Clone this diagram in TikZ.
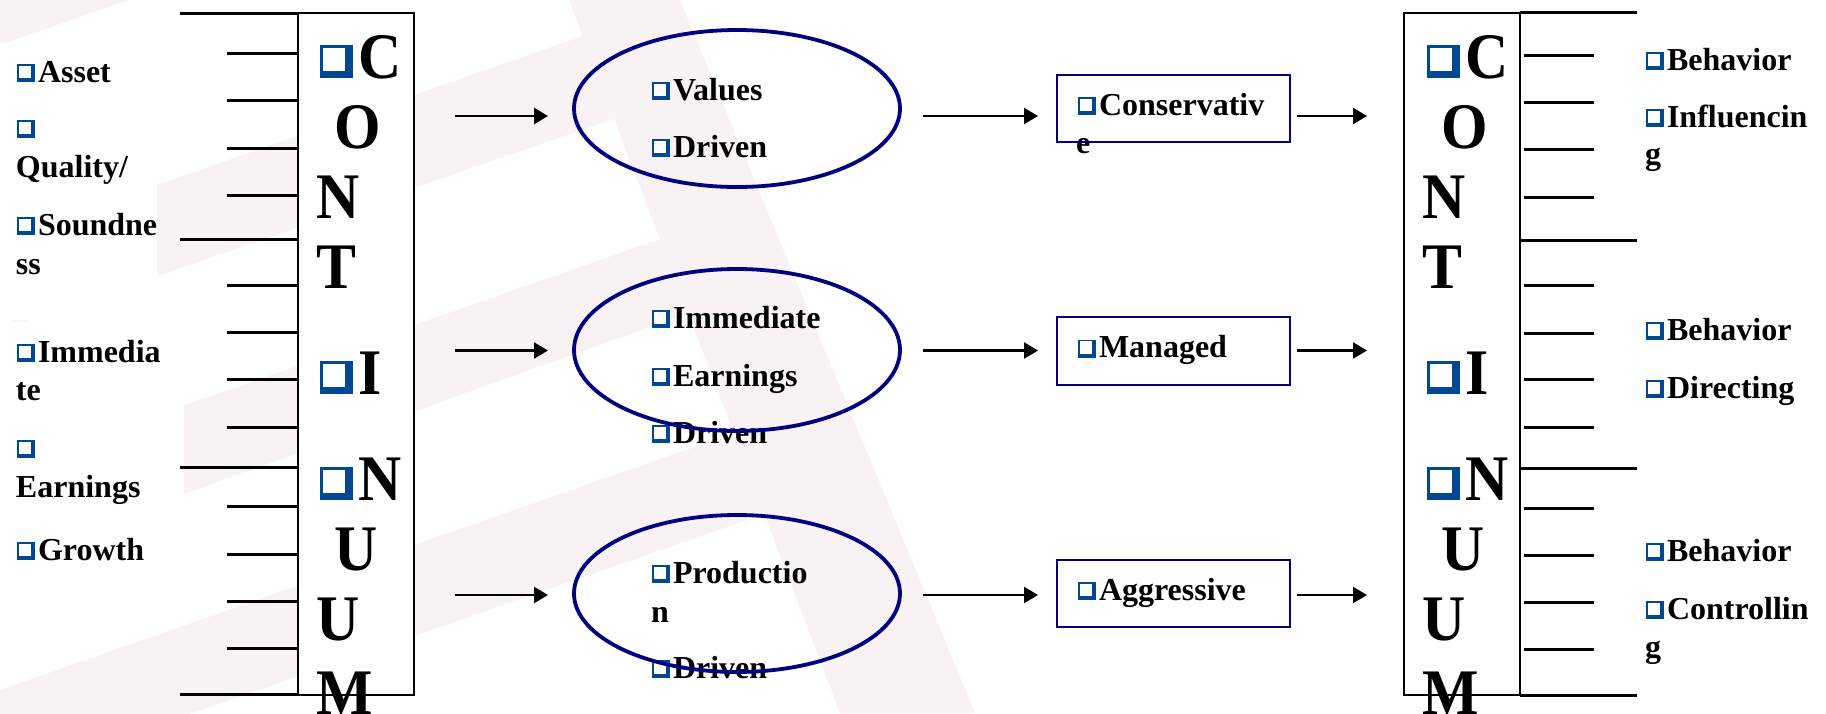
\documentclass[tikz,border=0pt]{standalone}
\usepackage{fontspec}
\setmainfont{Liberation Serif}
\newfontfamily\bigfont{Liberation Serif}[FakeStretch=0.92]
\usetikzlibrary{shapes.geometric,arrows.meta}
\definecolor{cbblue}{RGB}{0,72,145}
\definecolor{navyb}{RGB}{0,0,128}
\definecolor{wmark}{RGB}{249,242,245}
\newlength\cbsz
\newcommand\cb[1]{\setlength\cbsz{#1}%
  \mbox{\rlap{\textcolor{cbblue}{\rule{\cbsz}{\cbsz}}}%
  \kern0.1\cbsz\raisebox{0.22\cbsz}{\textcolor{white}{\rule{0.66\cbsz}{0.68\cbsz}}}%
  \kern0.24\cbsz}}
\newcommand\cbs{\cb{18pt}\kern3pt}
\newcommand\cbb{\cb{33pt}\kern5pt}
\begin{document}
\begin{tikzpicture}[x=1pt,y=-1pt,
  lbl/.style={font=\fontsize{32}{38}\selectfont\bfseries, anchor=base west, inner sep=0pt, outer sep=0pt},
  big/.style={font=\bigfont\fontsize{65}{70}\selectfont\bfseries, anchor=base west, inner sep=0pt, outer sep=0pt},
  tick/.style={line width=3pt},
  arr/.style={line width=2.3pt, -{Triangle[length=14pt,width=16pt]}},
  ell/.style={ellipse, draw=navyb, line width=3.8pt, minimum width=326pt, inner sep=0pt},
  rbox/.style={rectangle, draw=navyb, line width=2pt, minimum width=233pt, inner sep=0pt},
  cbox/.style={rectangle, draw=black, line width=2.6pt, minimum width=116pt, minimum height=682pt, inner sep=0pt, fill=white},
  wm/.style={fill=wmark, draw=none},
  panel/.style={fill=white, draw=none}
]
\useasboundingbox (0,0) rectangle (1826,713);
\clip (0,0) rectangle (1826,713);
\fill[white] (0,0) rectangle (1826,713);

% faint background watermark
\fill[wm] (569,0) -- (680,0) -- (975,713) -- (840,713) -- cycle;
\fill[wm] (0,0) -- (128,0) -- (0,45) -- cycle;
\fill[wm] (0,240) -- (600,30) [rounded corners=30pt] -- (650,60) -- (640,110) -- (0,330) -- cycle;
\fill[wm] (0,470) -- (700,225) -- (725,300) -- (0,560) -- cycle;
\fill[wm] (0,690) -- (780,417) -- (805,500) -- (0,780) -- cycle;
% white text panels on the left
\fill[panel] (0,42) rectangle (184,110);
\fill[panel] (0,111) rectangle (157,320);
\fill[panel] (0,322) rectangle (184,521);
\fill[panel] (0,521) rectangle (184,601);

% continuum boxes
\node[cbox] (lbox) at (356,354) {};
\node[cbox] (rbox) at (1462,354) {};

% left ruler ticks
\foreach \y in {13.3,239,467.5,694.5} \draw[tick] (180,\y) -- (298,\y);
\foreach \y in {53.5,100.5,148.7,195,285.5,332.5,379.5,427,506.5,554,601.5,648.5} \draw[tick] (227,\y) -- (298,\y);
% right ruler ticks
\foreach \y in {12.7,240,468,695.7} \draw[tick] (1520,\y) -- (1637,\y);
\foreach \y in {55,102,149,197,285.5,333,379,427,508,555,602,649} \draw[tick] (1524,\y) -- (1594,\y);

% left labels
\node[lbl] (l1) at (17,82) {\cbs Asset};
\node[lbl] (l2) at (17,138) {\cbs};
\node[lbl] (l3) at (16,177) {Quality/};
\node[lbl] (l4) at (17,235) {\cbs Soundne};
\node[lbl] (l5) at (16,274) {ss};
\node[lbl] (l6) at (17,362) {\cbs Immedia};
\node[lbl] (l7) at (16,400) {te};
\node[lbl] (l8) at (17,458) {\cbs};
\node[lbl] (l9) at (16,497) {Earnings};
\node[lbl] (l10) at (17,560) {\cbs Growth};

% left big letters
\node[big] (lc) at (320,78) {\cbb C};
\node[big] (lo) at (334,148) {O};
\node[big] (ln) at (316,218) {N};
\node[big] (lt) at (316,288) {T};
\node[big] (li) at (320,394) {\cbb I};
\node[big] (ln2) at (320,500) {\cbb N};
\node[big] (lu) at (334,570) {U};
\node[big] (lu2) at (316,640) {U};
\node[big] (lm) at (316,714) {M};

% right big letters
\node[big] (rc) at (1427,78) {\cbb C};
\node[big] (ro) at (1441,148) {O};
\node[big] (rn) at (1422,218) {N};
\node[big] (rt) at (1422,288) {T};
\node[big] (ri) at (1427,394) {\cbb I};
\node[big] (rn2) at (1427,500) {\cbb N};
\node[big] (ru) at (1441,570) {U};
\node[big] (ru2) at (1422,640) {U};
\node[big] (rm) at (1422,714) {M};

% ellipse texts
\node[lbl] (e1a) at (652,100) {\cbs Values};
\node[lbl] (e1b) at (652,157) {\cbs Driven};
\node[lbl] (e2a) at (652,328) {\cbs Immediate};
\node[lbl] (e2b) at (652,386) {\cbs Earnings};
\node[lbl] (e2c) at (652,443) {\cbs Driven};
\node[lbl] (e3a) at (652,583) {\cbs Productio};
\node[lbl] (e3b) at (651,622) {n};
\node[lbl] (e3c) at (652,678) {\cbs Driven};

% ellipses
\node[ell, minimum height=157pt] (e1) at (737,108.5) {};
\node[ell, minimum height=162pt] (e2) at (737,350) {};
\node[ell, minimum height=157pt] (e3) at (737,593.5) {};

% rectangle texts
\node[lbl] (r1a) at (1078,115) {\cbs Conservativ};
\node[lbl] (r1b) at (1076,153) {e};
\node[lbl] (r2a) at (1078,357.5) {\cbs Managed};
\node[lbl] (r3a) at (1078,600) {\cbs Aggressive};

% rectangles
\node[rbox, minimum height=67pt] (r1) at (1173.5,108.5) {};
\node[rbox, minimum height=68pt] (r2) at (1173.5,351) {};
\node[rbox, minimum height=67pt] (r3) at (1173.5,593.5) {};

% right labels
\node[lbl] (q1) at (1646,70) {\cbs Behavior};
\node[lbl] (q2) at (1646,127) {\cbs Influencin};
\node[lbl] (q3) at (1645,164) {g};
\node[lbl] (q4) at (1646,340) {\cbs Behavior};
\node[lbl] (q5) at (1646,398) {\cbs Directing};
\node[lbl] (q6) at (1646,561) {\cbs Behavior};
\node[lbl] (q7) at (1646,619) {\cbs Controllin};
\node[lbl] (q8) at (1645,657) {g};

% arrow end points
\foreach \r/\y in {1/116,2/350.5,3/595} {
  \coordinate (a\r s) at (455,\y);
  \coordinate (a\r e) at (548,\y);
  \coordinate (b\r s) at (923,\y);
  \coordinate (b\r e) at (1038,\y);
  \coordinate (c\r s) at (1297,\y);
  \coordinate (c\r e) at (1367,\y);
}
\foreach \r in {1,2,3} {
  \draw[arr] (a\r s) -- (a\r e);
  \draw[arr] (b\r s) -- (b\r e);
  \draw[arr] (c\r s) -- (c\r e);
}
\end{tikzpicture}
\end{document}
